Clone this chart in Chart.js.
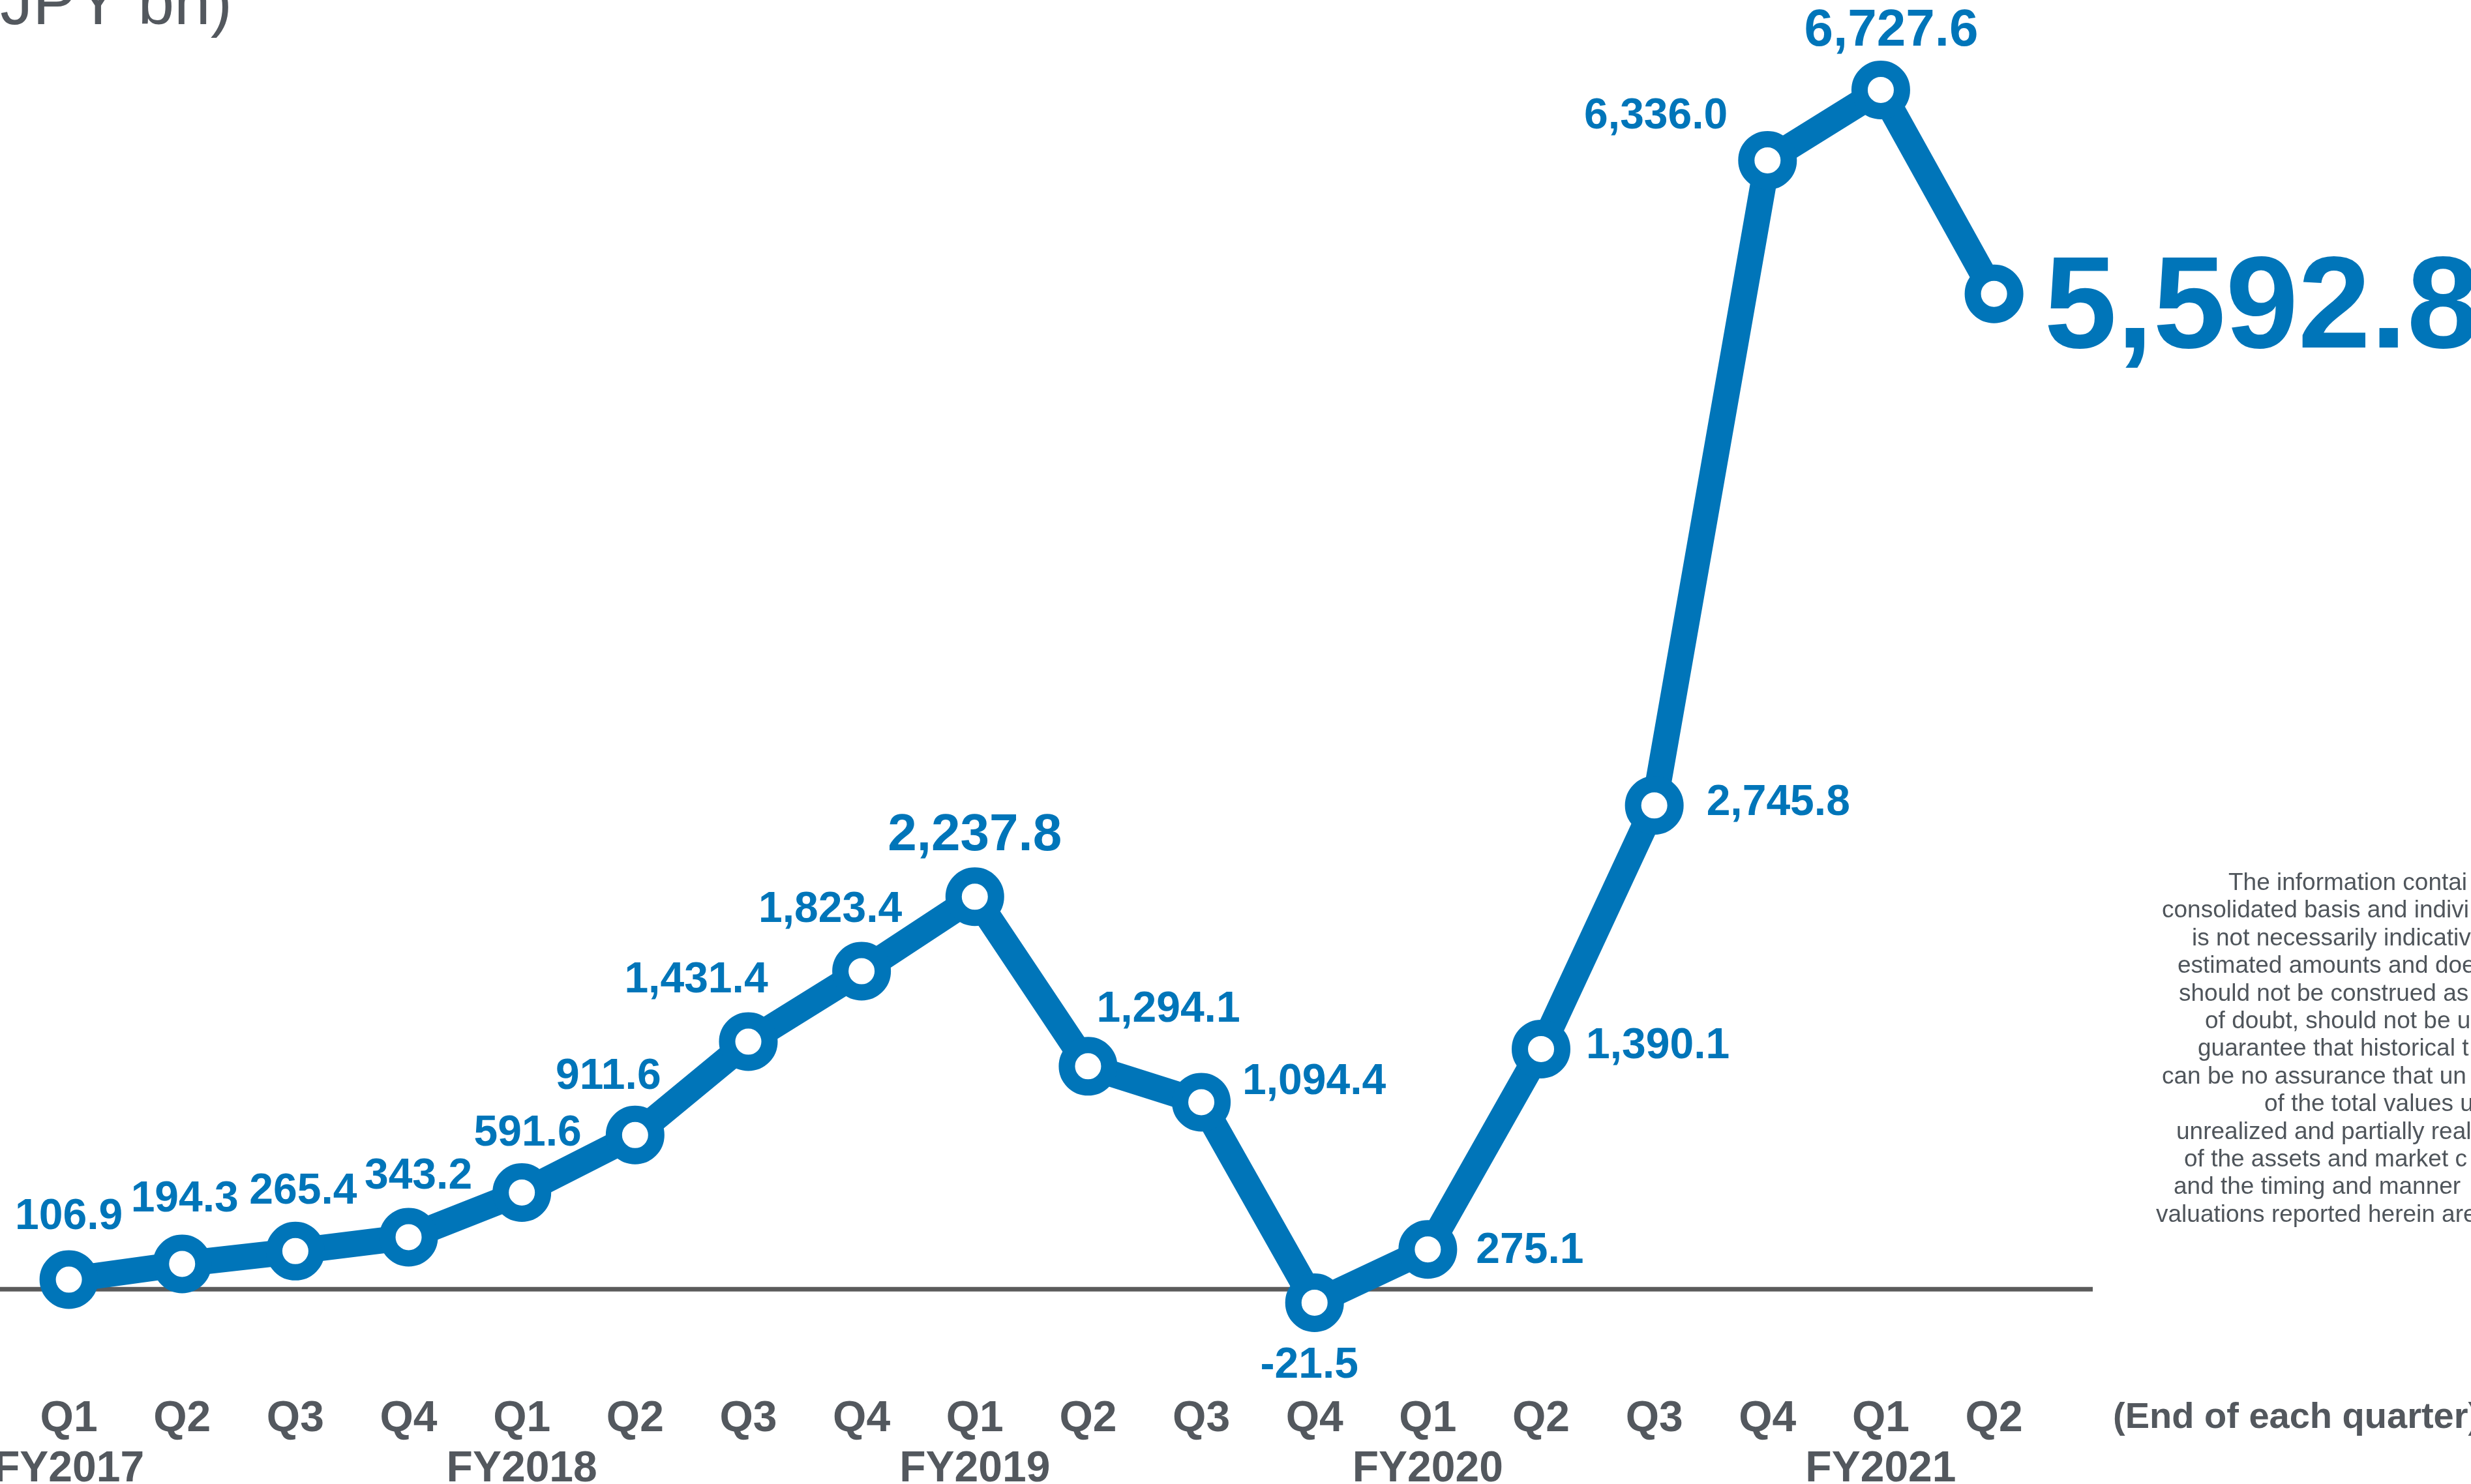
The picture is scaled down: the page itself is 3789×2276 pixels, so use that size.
<!DOCTYPE html>
<html>
<head>
<meta charset="utf-8">
<script src="https://cdn.jsdelivr.net/npm/chart.js@4/dist/chart.umd.min.js"></script>
<style>
  html, body { margin: 0; padding: 0; background: #fff; overflow: hidden; }
  #wrap { width: 3789px; height: 2276px; position: relative; }
</style>
</head>
<body>
<div id="wrap"><canvas id="chartGanancias" width="3789" height="2276"></canvas></div>
<script>
// Datos (JPY bn, fin de cada trimestre)
const quarters = ['Q1', 'Q2', 'Q3', 'Q4', 'Q1', 'Q2', 'Q3', 'Q4', 'Q1', 'Q2', 'Q3', 'Q4', 'Q1', 'Q2', 'Q3', 'Q4', 'Q1', 'Q2'];
const fiscalYears = ['FY2017', '', '', '', 'FY2018', '', '', '', 'FY2019', '', '', '', 'FY2020', '', '', '', 'FY2021', ''];
const values = [106.9, 194.3, 265.4, 343.2, 591.6, 911.6, 1431.4, 1823.4, 2237.8, 1294.1, 1094.4, -21.5, 275.1, 1390.1, 2745.8, 6336.0, 6727.6, 5592.8];

const unitLabel = '(JPY bn)';
const periodNote = '(End of each quarter)';
const noteLines = [
    'The information contai',
    'consolidated basis and indivi',
    'is not necessarily indicativ',
    'estimated amounts and doe',
    'should not be construed as',
    'of doubt, should not be u',
    'guarantee that historical t',
    'can be no assurance that un',
    'of the total values u',
    'unrealized and partially real',
    'of the assets and market c',
    'and the timing and manner',
    'valuations reported herein are'
];

// colores
const AZUL = '#0075b9';
const GRIS = '#53585e';

// ubicación de cada etiqueta de valor respecto a su punto
const labelDx    = [0, 4, 12, 15, 9, -41, -80, -48, 0, 13, 63, -8, 74, 69, 80, -61, 16, 77];
const labelDy    = [-78, -80, -73, -74, -72, -71, -76, -76, -71, -68, -12, 115, 21, 14, 15, -49, -68, 82];
const labelAlign = ['center', 'center', 'center', 'center', 'center', 'center', 'center', 'center', 'center',
                    'left', 'left', 'center', 'left', 'left', 'left', 'right', 'center', 'left'];
const labelSize  = [66, 66, 66, 66, 66, 66, 66, 66, 80, 66, 66, 66, 66, 66, 66, 66, 80, 200];

const FONT = "'Liberation Sans', Arial, sans-serif";
const LINEA_BASE = 54; // la línea gris queda un poco sobre el cero

const fmt = v => v.toLocaleString('en-US', { minimumFractionDigits: 1, maximumFractionDigits: 1 });

// Plugin para textos y línea base
const textosPlugin = {
    id: 'textos',
    beforeDatasetsDraw(chart) {
        const ctx = chart.ctx;
        const y = chart.scales.y.getPixelForValue(LINEA_BASE);
        ctx.save();
        ctx.strokeStyle = '#5b5b5b';
        ctx.lineWidth = 7;
        ctx.beginPath();
        ctx.moveTo(0, y);
        ctx.lineTo(3209, y);
        ctx.stroke();
        ctx.restore();
    },
    afterDatasetsDraw(chart) {
        const ctx = chart.ctx;
        const xs = chart.scales.x;
        const meta = chart.getDatasetMeta(0);
        ctx.save();

        // etiquetas de valores
        ctx.fillStyle = AZUL;
        ctx.textBaseline = 'alphabetic';
        meta.data.forEach((pt, i) => {
            ctx.font = 'bold ' + labelSize[i] + 'px ' + FONT;
            ctx.textAlign = labelAlign[i];
            ctx.fillText(fmt(values[i]), pt.x + labelDx[i], pt.y + labelDy[i]);
        });

        // eje x: trimestres y años fiscales
        ctx.fillStyle = GRIS;
        ctx.textAlign = 'center';
        ctx.font = 'bold 66px ' + FONT;
        quarters.forEach((q, i) => {
            const x = xs.getPixelForValue(i);
            ctx.fillText(q, x, 2195);
            if (fiscalYears[i]) ctx.fillText(fiscalYears[i], x, 2272);
        });
        ctx.textAlign = 'left';
        ctx.font = 'bold 56px ' + FONT;
        ctx.fillText(periodNote, 3240, 2190);

        // unidad
        ctx.textAlign = 'right';
        ctx.font = '100px ' + FONT;
        ctx.fillText(unitLabel, 356, 37);

        // nota a la derecha
        const noteX = [3417, 3315, 3361, 3339, 3341, 3381, 3370, 3315, 3472, 3337, 3349, 3333, 3306];
        ctx.textAlign = 'left';
        ctx.font = '37px ' + FONT;
        ctx.fillStyle = '#4f555b';
        noteLines.forEach((t, i) => ctx.fillText(t, noteX[i], 1365 + i * 42.4));

        ctx.restore();
    }
};

const ctx = document.getElementById('chartGanancias');
window.chartGananciasInstance = new Chart(ctx, {
    type: 'line',
    data: {
        labels: quarters,
        datasets: [{
            data: values,
            borderColor: AZUL,
            borderWidth: 40,
            borderJoinStyle: 'round',
            pointRadius: 32.5,
            pointBorderWidth: 25,
            pointBackgroundColor: '#ffffff',
            pointBorderColor: AZUL,
            tension: 0,
            clip: false
        }]
    },
    options: {
        responsive: false,
        devicePixelRatio: 1,
        animation: false,
        events: [],
        layout: {
            padding: { left: 105.6, right: 731.4, top: 62.9, bottom: 146.2 }
        },
        scales: {
            x: { type: 'category', display: false, offset: false },
            y: { display: false, min: -500, max: 7000 }
        },
        plugins: {
            legend: { display: false },
            tooltip: { enabled: false }
        }
    },
    plugins: [textosPlugin]
});
</script>
</body>
</html>
